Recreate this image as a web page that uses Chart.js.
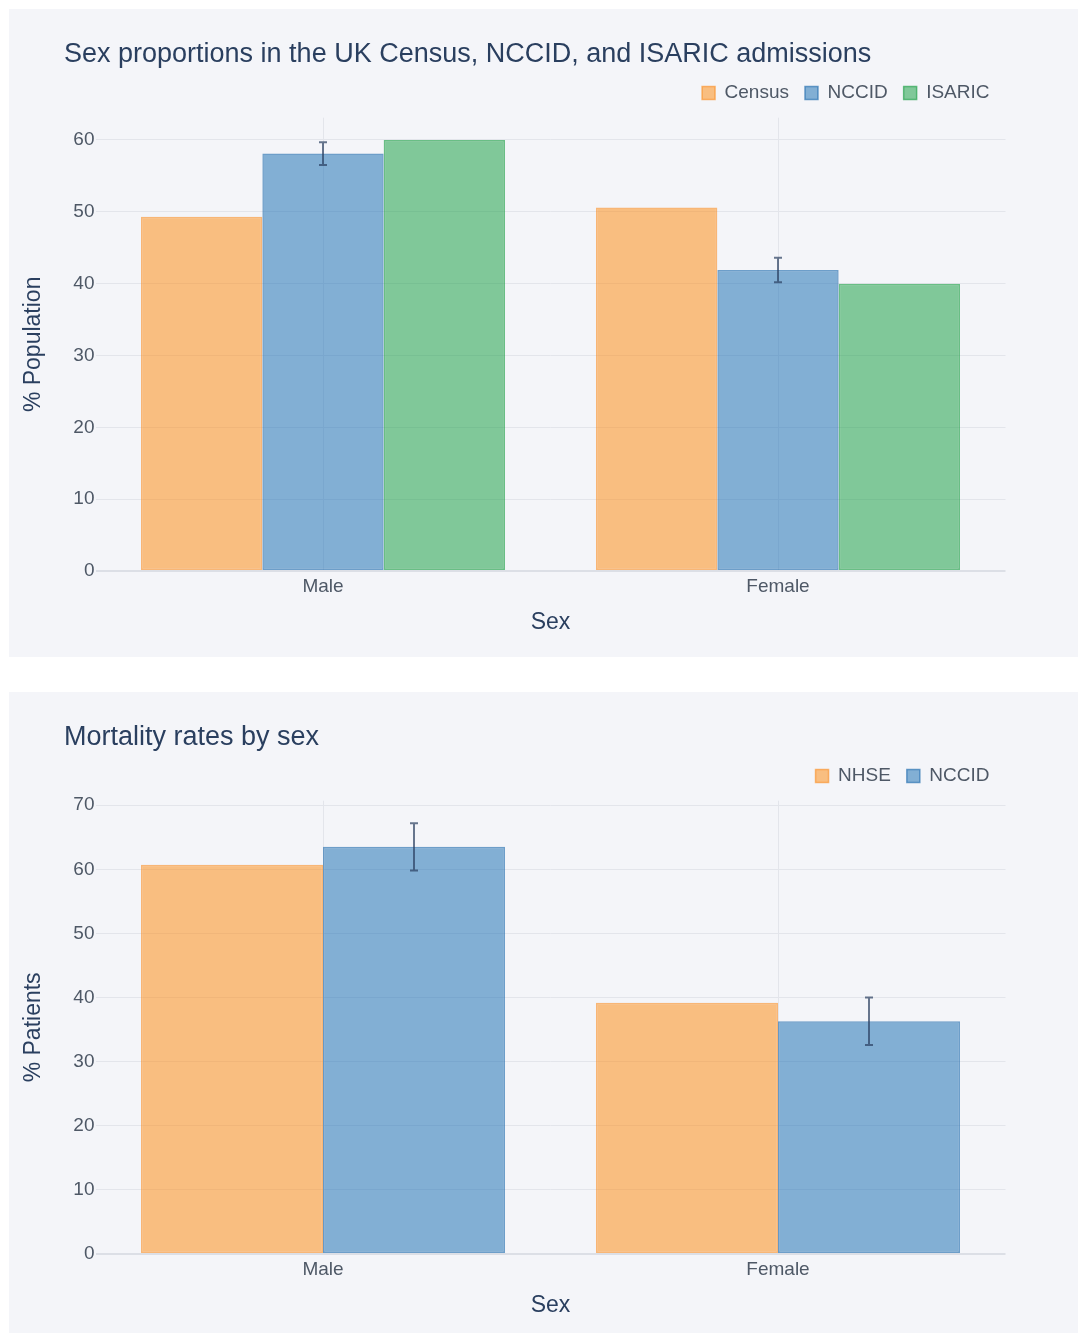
<!DOCTYPE html>
<html>
<head>
<meta charset="utf-8">
<script src="https://cdn.jsdelivr.net/npm/chart.js@4.4.1/dist/chart.umd.min.js"></script>
<style>
  html, body { margin: 0; padding: 0; background: #fff; overflow: hidden; }
  .panel { position: absolute; left: 9px; width: 1069px; height: 648px; background: #f4f5f9; }
  #p1 { top: 9px; }
  #p2 { top: 692px; }
</style>
</head>
<body>
<div class="panel" id="p1"><canvas id="sexChart" width="1069" height="648"></canvas></div>
<div class="panel" id="p2"><canvas id="mortChart" width="1069" height="648"></canvas></div>
<script>
// values
const categories = ['Male', 'Female'];
const censusPct = [49.3, 50.6];
const nccidPct = [58.1, 41.9];
const nccidPctErr = [1.6, 1.7];
const isaricPct = [60.0, 40.0];

const nhseMortality = [60.7, 39.2];
const nccidMortality = [63.5, 36.3];
const nccidMortalityErr = [3.7, 3.7];

const FONT = '"Liberation Sans", Arial, sans-serif';
const TITLE_COLOR = '#2a3f5f';
const TICK_COLOR = '#4e5866';
const GRID_COLOR = '#e3e5eb';

const ORANGE = { fill: 'rgba(253,143,29,0.55)', line: 'rgba(250,140,30,0.6)' };
const BLUE = { fill: 'rgba(37,116,182,0.55)', line: 'rgba(37,110,175,0.65)' };
const GREEN = { fill: 'rgba(33,163,75,0.55)', line: 'rgba(30,160,70,0.65)' };

Chart.defaults.font.family = FONT;

// plotly-like error bars drawn from the y scale
const errorBarPlugin = {
  id: 'errorBars',
  afterDatasetsDraw(chart) {
    const ctx = chart.ctx;
    const yScale = chart.scales.y;
    chart.data.datasets.forEach((ds, i) => {
      if (!ds.errors) return;
      const meta = chart.getDatasetMeta(i);
      meta.data.forEach((bar, j) => {
        const v = ds.data[j];
        const e = ds.errors[j];
        const top = yScale.getPixelForValue(v + e);
        const bot = yScale.getPixelForValue(v - e);
        ctx.save();
        ctx.strokeStyle = 'rgba(42,63,95,0.7)';
        ctx.lineWidth = 2;
        ctx.beginPath();
        ctx.moveTo(bar.x, top); ctx.lineTo(bar.x, bot);
        ctx.moveTo(bar.x - 4, top); ctx.lineTo(bar.x + 4, top);
        ctx.moveTo(bar.x - 4, bot); ctx.lineTo(bar.x + 4, bot);
        ctx.stroke();
        ctx.restore();
      });
    });
  }
};

// left-aligned title, outside the chart layout
const panelTitlePlugin = {
  id: 'panelTitle',
  afterDraw(chart, args, opts) {
    const ctx = chart.ctx;
    ctx.save();
    ctx.font = '27px ' + FONT;
    ctx.fillStyle = TITLE_COLOR;
    ctx.textBaseline = 'middle';
    ctx.fillText(opts.text, 55, 46);
    ctx.restore();
  }
};

function makeDataset(label, data, color, errors) {
  return {
    label,
    data,
    errors,
    backgroundColor: color.fill,
    borderColor: color.line,
    borderWidth: 1.5,
    borderSkipped: false,
    barPercentage: 1,
    categoryPercentage: 0.8,
  };
}

function createSexChart(canvasId, title, yTitle, yMax, datasets) {
  const ctx = document.getElementById(canvasId).getContext('2d');
  return new Chart(ctx, {
    type: 'bar',
    data: { labels: categories, datasets },
    plugins: [errorBarPlugin, panelTitlePlugin],
    options: {
      responsive: false,
      animation: false,
      layout: { padding: { top: 58.5, left: 7, right: 72.5, bottom: 17 } },
      plugins: {
        panelTitle: { text: title },
        tooltip: { enabled: false },
        // empty spacer between legend and plot
        subtitle: { display: true, text: ' ', weight: 500, font: { size: 1 }, padding: { top: 0, bottom: 4 } },
        legend: {
          position: 'top',
          align: 'end',
          labels: {
            color: TICK_COLOR,
            font: { size: 19 },
            boxWidth: 13,
            boxHeight: 13,
            padding: 16,
          },
        },
      },
      scales: {
        x: {
          grid: { offset: false, color: GRID_COLOR, drawTicks: false },
          border: { display: false },
          ticks: { color: TICK_COLOR, font: { size: 19 }, padding: 4 },
          title: { display: true, text: 'Sex', color: TITLE_COLOR, font: { size: 23 }, padding: { top: 4, bottom: 4 } },
          afterFit(scale) { scale.height = 69; },
        },
        y: {
          min: 0,
          max: yMax,
          grid: {
            color: (c) => (c.tick && c.tick.value === 0 ? '#dcdfe6' : GRID_COLOR),
            lineWidth: (c) => (c.tick && c.tick.value === 0 ? 2 : 1),
            drawTicks: false,
          },
          border: { display: false },
          ticks: { stepSize: 10, includeBounds: false, color: TICK_COLOR, font: { size: 19 }, padding: 1 },
          afterBuildTicks(scale) { scale.ticks = scale.ticks.filter((t) => t.value % 10 === 0); },
          title: { display: true, text: yTitle, color: TITLE_COLOR, font: { size: 23 }, padding: { top: 4, bottom: 4 } },
          afterFit(scale) { scale.width = 79.5; },
        },
      },
    },
  });
}

createSexChart('sexChart', 'Sex proportions in the UK Census, NCCID, and ISARIC admissions', '% Population', 63.1, [
  makeDataset('Census', censusPct, ORANGE),
  makeDataset('NCCID', nccidPct, BLUE, nccidPctErr),
  makeDataset('ISARIC', isaricPct, GREEN),
]);

createSexChart('mortChart', 'Mortality rates by sex', '% Patients', 70.7, [
  makeDataset('NHSE', nhseMortality, ORANGE),
  makeDataset('NCCID', nccidMortality, BLUE, nccidMortalityErr),
]);
</script>
</body>
</html>
